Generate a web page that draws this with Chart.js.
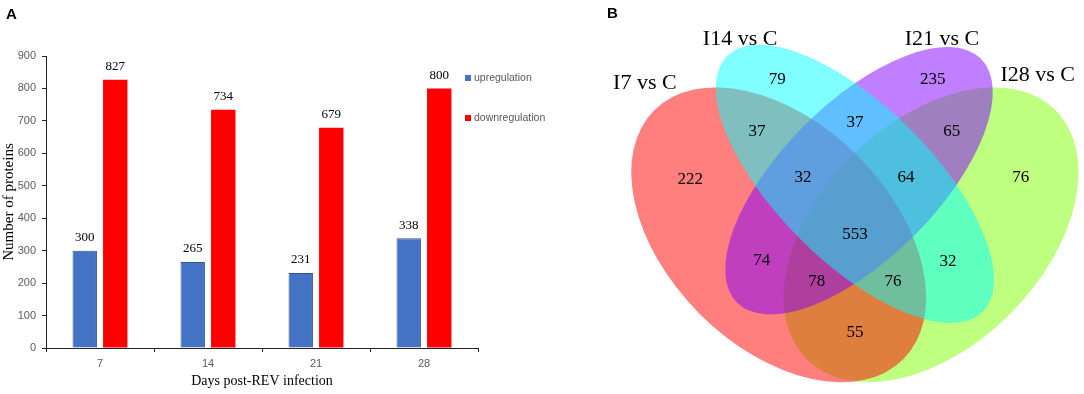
<!DOCTYPE html>
<html>
<head>
<meta charset="utf-8">
<script src="https://cdn.jsdelivr.net/npm/chart.js@4"></script>
<style>
  html, body { margin: 0; padding: 0; background: #fff; }
  #wrap { position: relative; width: 1084px; height: 394px; overflow: hidden; }
  #barBox { position: absolute; left: 0; top: 0; width: 580px; height: 394px; }
  #vennBox { position: absolute; left: 580px; top: 0; width: 504px; height: 394px; }
  .panel { position: absolute; font: bold 15px 'Liberation Sans', Arial, sans-serif; color: #000; line-height: 17px; }
</style>
</head>
<body>
<div id="wrap">
  <div id="barBox"><canvas id="bar"></canvas></div>
  <div id="vennBox"><canvas id="venn"></canvas></div>
  <div class="panel" style="left:6px;top:5px">A</div>
  <div class="panel" style="left:607px;top:4px">B</div>
</div>
<script>
// ---- panel A data ----
const days = ['7', '14', '21', '28'];
const upregulation = [300, 265, 231, 338];
const downregulation = [827, 734, 679, 800];

// ---- panel B data (Venn, unit coordinates, y up) ----
const vennSets = ['I7 vs C', 'I14 vs C', 'I21 vs C', 'I28 vs C'];
const setColors = ['rgba(255,0,0,0.5)', 'rgba(0,255,255,0.5)', 'rgba(127,0,255,0.5)', 'rgba(127,255,0,0.5)'];
const setLabelX = [0.092, 0.277, 0.669, 0.855];
const setLabelY = [0.765, 0.849, 0.849, 0.779];
const ellCx = [0.352, 0.5, 0.508, 0.648];
const ellCy = [0.470, 0.569, 0.575, 0.470];
const ellA = [0.342, 0.351, 0.335, 0.342];
const ellB = [0.217, 0.151, 0.151, 0.217];
const ellRot = [-45, -45, 45, 45];
const drawOrder = [3, 0, 2, 1];

const vennCounts = [222, 79, 235, 76, 37, 37, 65, 32, 64, 553, 74, 32, 78, 76, 55];
const vennX = [0.180, 0.349, 0.651, 0.822, 0.310, 0.500, 0.688, 0.399, 0.599, 0.500, 0.319, 0.681, 0.426, 0.574, 0.500];
const vennY = [0.577, 0.771, 0.771, 0.581, 0.670, 0.689, 0.670, 0.581, 0.581, 0.470, 0.420, 0.419, 0.379, 0.379, 0.280];

const SERIF = "'Liberation Serif', 'Times New Roman', serif";
const SANS = "'Liberation Sans', Arial, sans-serif";

// value labels above bars + legend inside plot
const barExtras = {
  id: 'barExtras',
  afterDatasetsDraw(chart) {
    const ctx = chart.ctx;
    ctx.save();
    ctx.font = '13px ' + SERIF;
    ctx.fillStyle = '#000';
    ctx.textAlign = 'center';
    ctx.textBaseline = 'middle';
    chart.data.datasets.forEach((ds, i) => {
      chart.getDatasetMeta(i).data.forEach((el, j) => {
        ctx.fillText(String(ds.data[j]), el.x, el.y - 13);
      });
    });
    // legend
    const lx = chart.chartArea.right - 13;
    chart.data.datasets.forEach((ds, i) => {
      const ly = chart.chartArea.top + 22 + i * 40;
      ctx.fillStyle = ds.backgroundColor;
      ctx.fillRect(lx, ly - 3, 6, 6);
      ctx.fillStyle = '#595959';
      ctx.font = '10.5px ' + SANS;
      ctx.textAlign = 'left';
      ctx.fillText(ds.label, lx + 9, ly);
    });
    ctx.restore();
  }
};

new Chart(document.getElementById('bar'), {
  type: 'bar',
  data: {
    labels: days,
    datasets: [
      { label: 'upregulation', data: upregulation, backgroundColor: '#4472C4', borderColor: '#2F5597', borderWidth: 1 },
      { label: 'downregulation', data: downregulation, backgroundColor: '#FF0000', borderWidth: 0 }
    ]
  },
  options: {
    responsive: true, maintainAspectRatio: false, animation: false,
    categoryPercentage: 0.565, barPercentage: 0.8,
    layout: { padding: { top: 56, right: 102, left: 0, bottom: 0 } },
    plugins: { legend: { display: false }, tooltip: { enabled: false } },
    scales: {
      x: {
        grid: { drawOnChartArea: false, tickLength: 4, color: '#222', offset: true },
        border: { color: '#222' },
        ticks: { font: { family: SANS, size: 11 }, color: '#595959', padding: 5 },
        title: { display: true, text: 'Days post-REV infection', font: { family: SERIF, size: 14 }, color: '#000', padding: { top: 0, bottom: 4 } },
        afterFit(s) { s.height = 46; }
      },
      y: {
        min: 0, max: 900,
        grid: { drawOnChartArea: false, tickLength: 4, color: '#222' },
        border: { color: '#222' },
        ticks: { stepSize: 100, font: { family: SANS, size: 11 }, color: '#595959', padding: 6 },
        title: { display: true, text: 'Number of proteins', font: { family: SERIF, size: 15 }, color: '#000', padding: { top: 0, bottom: 0 } },
        afterFit(s) { s.width = 46; }
      }
    }
  },
  plugins: [barExtras]
});

// ellipses + texts for the Venn
const vennDraw = {
  id: 'vennDraw',
  beforeDatasetsDraw(chart) {
    const ctx = chart.ctx, xs = chart.scales.x, ys = chart.scales.y;
    const kx = xs.getPixelForValue(1) - xs.getPixelForValue(0);
    const ky = ys.getPixelForValue(0) - ys.getPixelForValue(1);
    ctx.save();
    drawOrder.forEach(i => {
      ctx.beginPath();
      ctx.ellipse(xs.getPixelForValue(ellCx[i]), ys.getPixelForValue(ellCy[i]),
        ellA[i] * kx, ellB[i] * ky, -ellRot[i] * Math.PI / 180, 0, Math.PI * 2);
      ctx.fillStyle = setColors[i];
      ctx.fill();
    });
    ctx.restore();
  },
  afterDatasetsDraw(chart) {
    const ctx = chart.ctx, xs = chart.scales.x, ys = chart.scales.y;
    ctx.save();
    ctx.fillStyle = '#000';
    ctx.textAlign = 'center';
    ctx.textBaseline = 'middle';
    ctx.font = '17px ' + SERIF;
    chart.getDatasetMeta(0).data.forEach((el, j) => {
      ctx.fillText(String(vennCounts[j]), el.x, el.y);
    });
    ctx.font = '22px ' + SERIF;
    vennSets.forEach((s, i) => {
      ctx.fillText(s, xs.getPixelForValue(setLabelX[i]), ys.getPixelForValue(setLabelY[i]));
    });
    ctx.restore();
  }
};

new Chart(document.getElementById('venn'), {
  type: 'scatter',
  data: {
    datasets: [{ data: vennX.map((x, i) => ({ x: x, y: vennY[i] })), pointRadius: 0 }]
  },
  options: {
    responsive: true, maintainAspectRatio: false, animation: false,
    layout: { padding: 0 },
    plugins: { legend: { display: false }, tooltip: { enabled: false } },
    scales: {
      x: { type: 'linear', min: -0.034, max: 0.945, display: false },
      y: { type: 'linear', min: 0.161, max: 0.926, display: false }
    }
  },
  plugins: [vennDraw]
});
</script>
</body>
</html>
